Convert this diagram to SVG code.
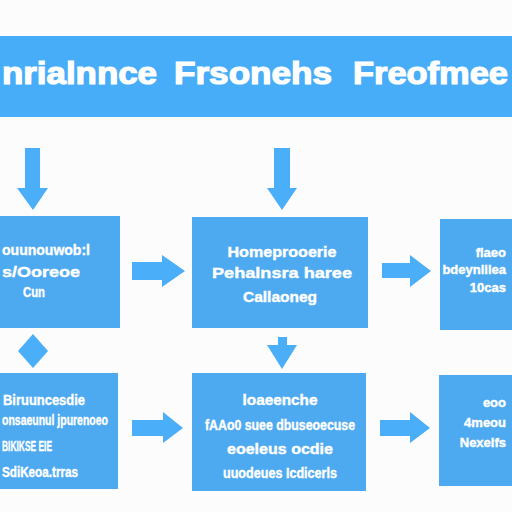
<svg xmlns="http://www.w3.org/2000/svg" width="512" height="512" viewBox="0 0 512 512">
  <style>
    .box { fill: #4eaaf0; }
    .arrow { fill: #4aaef8; }
    .t { font-family: "Liberation Sans", Arial, sans-serif; font-weight: bold; fill: #ffffff; stroke: #ffffff; stroke-width: 0.4; font-size: 15px; }
    .r { font-size: 13px; text-anchor: end; }
    .c { text-anchor: middle; }
    .title { font-family: "Liberation Sans", Arial, sans-serif; font-weight: bold; fill: #ffffff; stroke: #ffffff; stroke-width: 1.2; font-size: 31px; }
  </style>
  <rect width="512" height="512" fill="#fcfcfc"/>

  <g id="title">
    <rect x="0" y="36" width="512" height="81" fill="#48adf8"/>
    <text class="title" y="84"><tspan x="2" textLength="155" lengthAdjust="spacingAndGlyphs">nrialnnce</tspan><tspan x="174" textLength="158" lengthAdjust="spacingAndGlyphs">Frsonehs</tspan><tspan x="353" textLength="155" lengthAdjust="spacingAndGlyphs">Freofmee</tspan></text>
  </g>

  <g id="connectors">
    <path class="arrow" d="M25,148 H40 V188 H48 L33,210 L17,188 H25 Z"/>
    <path class="arrow" d="M274,148 H290 V188 H297 L282,210 L267,188 H274 Z"/>
    <path class="arrow" d="M132,262 H162 V255 L185,271 L162,287 V280 H132 Z"/>
    <path class="arrow" d="M382,263 H410 V255 L431,271 L410,287 V278 H382 Z"/>
    <path class="arrow" d="M33,334 L48,351 L33,368 L18,351 Z"/>
    <path class="arrow" d="M278,337 H287 V345 H297 L282,369 L267,345 H278 Z"/>
    <path class="arrow" d="M132,420 H163 V412 L183,428 L163,443 V436 H132 Z"/>
    <path class="arrow" d="M380,420 H410 V412 L430,428 L410,443 V436 H380 Z"/>
  </g>

  <g id="box1">
    <rect class="box" x="0" y="216" width="120" height="112"/>
    <text class="t" x="2" y="255" textLength="88" lengthAdjust="spacingAndGlyphs">ouunouwob:l</text>
    <text class="t" x="2" y="277" textLength="78" lengthAdjust="spacingAndGlyphs">s/Ooreoe</text>
    <text class="t c" x="34" y="297" textLength="22" lengthAdjust="spacingAndGlyphs">Cun</text>
  </g>

  <g id="box2">
    <rect class="box" x="192" y="217" width="176" height="111"/>
    <text class="t c" x="282" y="257" textLength="109" lengthAdjust="spacingAndGlyphs">Homeprooerie</text>
    <text class="t c" x="282" y="278" textLength="140" lengthAdjust="spacingAndGlyphs">Pehalnsra haree</text>
    <text class="t c" x="280" y="302" textLength="74" lengthAdjust="spacingAndGlyphs">Callaoneg</text>
  </g>

  <g id="box3">
    <rect class="box" x="440" y="219" width="72" height="111"/>
    <text class="t r" x="506" y="257">flaeo</text>
    <text class="t r" x="506" y="274">bdeynlilea</text>
    <text class="t r" x="506" y="292">10cas</text>
  </g>

  <g id="box4">
    <rect class="box" x="0" y="373" width="118" height="116"/>
    <text class="t" x="3" y="405" textLength="82" lengthAdjust="spacingAndGlyphs">Biruuncesdie</text>
    <text class="t" x="2" y="425" textLength="106" lengthAdjust="spacingAndGlyphs">onsaeunul jpurenoeo</text>
    <text class="t" x="2" y="451" textLength="50" lengthAdjust="spacingAndGlyphs">BIKIKSE EIE</text>
    <text class="t" x="2" y="477" textLength="76" lengthAdjust="spacingAndGlyphs">SdiKeoa.trras</text>
  </g>

  <g id="box5">
    <rect class="box" x="192" y="373" width="174" height="118"/>
    <text class="t c" x="280" y="405" textLength="75" lengthAdjust="spacingAndGlyphs">loaeenche</text>
    <text class="t c" x="280" y="430" textLength="150" lengthAdjust="spacingAndGlyphs">fAAo0 suee dbuseoecuse</text>
    <text class="t c" x="280" y="454" textLength="106" lengthAdjust="spacingAndGlyphs">eoeleus ocdie</text>
    <text class="t c" x="280" y="478" textLength="114" lengthAdjust="spacingAndGlyphs">uuodeues Icdicerls</text>
  </g>

  <g id="box6">
    <rect class="box" x="439" y="375" width="73" height="111"/>
    <text class="t r" x="506" y="407">eoo</text>
    <text class="t r" x="506" y="427">4meou</text>
    <text class="t r" x="506" y="447">Nexelfs</text>
  </g>
</svg>
